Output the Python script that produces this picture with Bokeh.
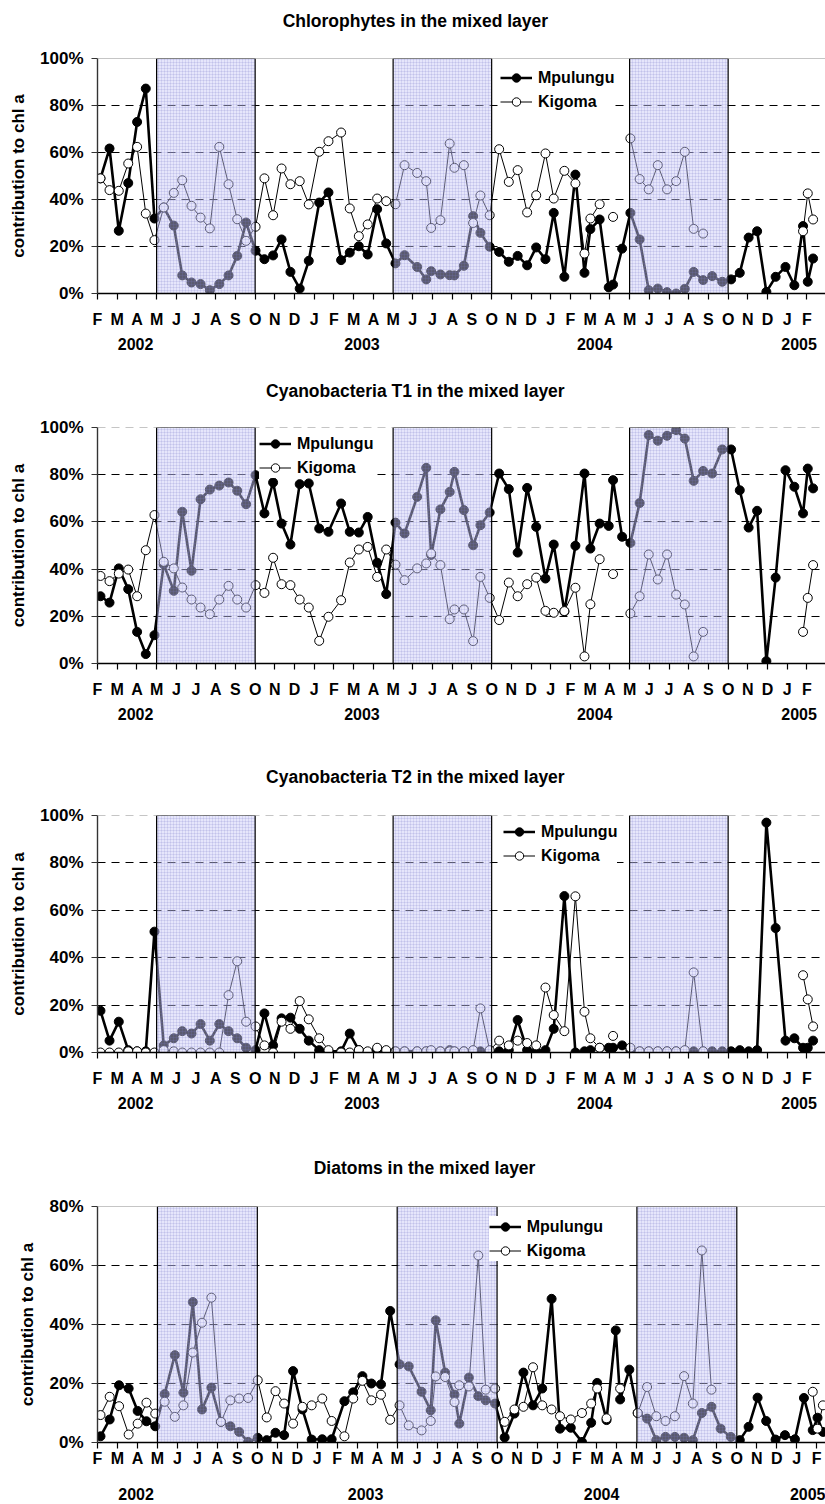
from bokeh.plotting import figure
from bokeh.models import (Range1d, FixedTicker, LinearAxis, Legend, LegendItem,
                          PrintfTickFormatter, ColumnDataSource, Span)
from bokeh.layouts import column
from bokeh.embed import file_html
from bokeh.resources import INLINE

nan = float("nan")
FONT = "Liberation Sans"

# sampling dates, in months after 1 February 2002
sample_month = [0.15, 0.61, 1.08, 1.56, 2.01, 2.45, 2.89, 3.36, 3.87, 4.30,
                4.77, 5.23, 5.70, 6.18, 6.65, 7.09, 7.54, 8.02, 8.47, 8.91,
                9.34, 9.79, 10.26, 10.72, 11.25, 11.72, 12.36, 12.80, 13.26, 13.71,
                14.19, 14.65, 15.12, 15.58, 16.22, 16.68, 16.93, 17.40, 17.87, 18.11,
                18.59, 19.06, 19.43, 19.90, 20.38, 20.87, 21.32, 21.80, 22.26, 22.73,
                23.15, 23.69, 24.25, 24.71, 25.01, 25.48, 25.94, 26.16, 26.62, 27.04,
                27.51, 27.97, 28.43, 28.90, 29.36, 29.80, 30.25, 30.73, 31.19, 31.70,
                32.15, 32.59, 33.04, 33.47, 33.94, 34.41, 34.91, 35.36, 35.80, 36.04,
                36.31]

month_letters = ["F", "M", "A", "M", "J", "J", "A", "S", "O", "N", "D", "J"] * 3 + ["F"]
year_labels = ["2002", "2003", "2004", "2005"]
year_label_month = [1.93, 13.42, 25.23, 35.6]
strat_start = [3, 15, 27]   # May
strat_end = [8, 20, 32]     # October

chloro_mpulungu = [49, 61.7, 26.7, 47, 73, 87.2, 31.9, 36.6, 28.9, 7.7,
                   4.7, 4, 1.4, 4, 7.7, 16, 30.2, 18.2, 14.6, 16.2,
                   23, 9.2, 2.1, 13.9, 38.7, 43, 14.2, 17.4, 20.1, 16.6,
                   35.9, 21.3, 12.8, 16.3, 11.3, 6, 9.5, 8.1, 7.8, 7.7,
                   11.8, 32.9, 25.8, 19.9, 17.7, 13.5, 16, 12, 19.6, 14.6,
                   34.3, 7.1, 50.6, 8.8, 27.4, 31.5, 2.6, 3.8, 19.1, 34.3,
                   23, 1.4, 2.1, 0.6, 0, 2, 9.2, 5.7, 7.4, 5,
                   6, 8.8, 23.8, 26.5, 0.7, 7.1, 11.3, 3.5, 28.7, 5,
                   14.9]
chloro_kigoma = [49, 44, 43.7, 55.3, 62.4, 34, 22.7, 36.6, 42.8, 48.2,
                 37.3, 32.3, 27.7, 62.4, 46.5, 31.6, 22.4, 28.4, 49, 33.3,
                 53.2, 46.5, 47.8, 37.9, 60.3, 64.8, 68.5, 36.2, 24.4, 29.4,
                 40.4, 39.3, 38, 54.6, 51.3, 47.8, 27.9, 31.2, 63.8, 53.5,
                 54.6, 30, 41.7, 33.3, 61.4, 47.5, 52.5, 34.5, 41.8, 59.6,
                 40.4, 52.2, 46.8, 17, 31.9, 38, nan, 32.6, nan, 66,
                 48.7, 44.3, 54.6, 44.3, 47.8, 60.3, 27.5, 25.5, nan, nan,
                 nan, nan, nan, nan, nan, nan, nan, nan, 26.5, 42.6,
                 31.5]

cyt1_mpulungu = [28.5, 25.8, 40.3, 31.5, 13.4, 4, 12, 42, 30.8, 64.3,
                 39.3, 69.6, 73.7, 75.4, 76.7, 73.2, 67.5, 79.8, 63.6, 76.7,
                 59.3, 50.4, 76, 76.3, 57.2, 55.8, 67.8, 55.8, 55.5, 62.1,
                 42.7, 29.4, 59.7, 55.1, 70.6, 82.9, 46, 65.3, 72.7, 81.2,
                 65, 50.1, 58.6, 64, 80.5, 73.9, 47, 74.4, 57.9, 36,
                 50.4, 22, 49.9, 80.5, 48.7, 59.3, 58.3, 77.7, 53.7, 51.1,
                 68, 96.8, 94.4, 96.5, 98.9, 95.3, 77.4, 81.6, 80.5, 90.7,
                 90.7, 73.4, 57.6, 64.7, 1, 36.4, 81.9, 74.9, 63.6, 82.6,
                 74.2]
cyt1_kigoma = [37.1, 34.9, 38.1, 39.8, 28.5, 48, 62.9, 43.1, 40.3, 32.2,
               27.1, 23.7, 20.9, 27.1, 32.9, 27.1, 23.7, 33.2, 29.9, 44.8,
               33.6, 33.2, 27.1, 23.7, 9.6, 19.8, 26.8, 42.8, 48.3, 49.4,
               36.7, 48.3, 41.9, 35.3, 40.3, 42.4, 46.6, 41.7, 18.8, 22.9,
               22.9, 9.5, 36.7, 27.8, 18.4, 34.3, 28.5, 33.6, 36.4, 22.3,
               21.5, 22.2, 32.1, 3, 25.1, 44.2, nan, 37.9, nan, 21.2,
               28.5, 46.2, 35.6, 46.2, 29.2, 25, 3, 13.4, nan, nan,
               nan, nan, nan, nan, nan, nan, nan, nan, 13.4, 27.8,
               41.7]

cyt2_mpulungu = [17.6, 5, 13, 1, 0.5, 0.5, 51, 3, 6, 9,
                 8, 12, 5, 12, 9, 6, 2, 1, 16.5, 3,
                 14.4, 14.7, 10, 5, 1, 0.5, 0.5, 8, 1, 0,
                 1.5, 0.5, 0.5, 0.5, 0.5, 0.5, 0.5, 0.5, 1, 0.5,
                 0.5, 0.5, 0.5, 0.5, 0.5, 1, 13.7, 1, 0.5, 1,
                 10, 66, 0, 0.5, 1, 2, 2, 2, 3, 1,
                 0.5, 0.5, 0.5, 0.5, 0.5, 0.5, 0.5, 0.5, 0.5, 0.5,
                 0.5, 1, 0.5, 1, 97, 52.5, 5, 6, 2, 2,
                 5]
cyt2_kigoma = [0, 0, 0, 0.5, 0.5, 0, 0, 1, 0.5, 0,
               0, 0, 0, 0, 24.2, 38.5, 13, 11, 3, 0,
               13, 10, 21.7, 14, 6, 1, 0, 0, 1, 0.5,
               2, 1, 0.5, 0.5, 0.5, 0.5, 1, 0.5, 0.5, 0.5,
               0.5, 1, 18.6, 1, 5, 3, 5, 4, 3, 27.4,
               15.8, 9, 65.9, 17.2, 6, 2, nan, 7, nan, 2,
               0.5, 0.5, 0.5, 0.5, 0.5, 1, 33.8, 0.5, nan, nan,
               nan, nan, nan, nan, nan, nan, nan, nan, 32.6, 22.4,
               11]

diat_mpulungu = [2.1, 7.8, 19.4, 18.3, 10.7, 7.2, 5.5, 16.4, 29.6, 16.9,
                 47.6, 11.2, 18.6, 7, 5.5, 3.6, 0.2, 1.6, 0.8, 3.3,
                 2.5, 24.2, 11.2, 1, 1.1, 1.1, 14, 17, 22.5, 20,
                 19.7, 44.6, 26.5, 25.8, 17.2, 10.9, 41.4, 23.7, 16.2, 6.4,
                 22, 15.7, 14.3, 13.2, 1.7, 9.8, 23.7, 12.6, 18.3, 48.7,
                 4.7, 5, 0.2, 6.7, 20.2, 7.6, 38, 14.6, 24.7, 10,
                 8.1, 0.8, 1.9, 1.9, 1.6, 0.8, 10, 12.1, 4.7, 1.9,
                 0.8, 5.3, 15.2, 7.3, 1, 2.5, 1.1, 15.1, 4.2, 8.4,
                 3.6]
diat_kigoma = [9.3, 15.5, 12.3, 2.7, 6.4, 13.5, 9.8, 13.8, 8.7, 12.6,
               30.5, 40.6, 49.1, 7, 14.3, 14.9, 15.1, 21.1, 8.5, 17.4,
               13.2, 6.4, 12.1, 12.6, 14.9, 7.3, 2.1, 14.9, 20.9, 14.3,
               16.2, 7.7, 12.6, 5.8, 4.1, 7.3, 22.4, 22.2, 13.7, 19.4,
               19, 63.4, 17.9, 18.3, 7, 11.2, 12.1, 25.5, 12.6, 11.2,
               8.9, 7.8, 10, 13.2, 18.3, 8.2, nan, 18.3, nan, 10,
               18.8, 8.9, 7.3, 8.9, 22.5, 13.2, 65.1, 17.9, nan, nan,
               nan, nan, nan, nan, nan, nan, nan, nan, 17.2, 4.7,
               12.6]


def plain_axis(ticks, labels, standoff, size):
    return LinearAxis(ticker=FixedTicker(ticks=ticks),
                      major_label_overrides={v: t for v, t in zip(ticks, labels)},
                      axis_line_color=None, major_tick_line_color=None,
                      minor_tick_line_color=None, major_tick_out=0,
                      major_tick_in=0, minor_tick_out=0, minor_tick_in=0,
                      major_label_standoff=standoff,
                      major_label_text_font=FONT,
                      major_label_text_font_size=size,
                      major_label_text_font_style="bold",
                      major_label_text_color="black")


def make_panel(title, mp, kg, ymax, frame_w, frame_h, b_top, b_bottom, b_left,
               x_end, title_month, title_standoff, legend_xy, month_standoff,
               year_standoff, top_solid):
    p = figure(frame_width=frame_w, frame_height=frame_h,
               x_range=Range1d(0, x_end), y_range=Range1d(0, ymax),
               output_backend="svg", toolbar_location=None,
               min_border_top=b_top, min_border_bottom=b_bottom,
               min_border_left=b_left, min_border_right=0)
    p.outline_line_color = None
    p.background_fill_color = "white"
    p.border_fill_color = "white"

    # grid
    p.xgrid.visible = False
    p.ygrid.ticker = FixedTicker(ticks=list(range(20, ymax, 20)))
    p.ygrid.grid_line_color = "black"
    p.ygrid.grid_line_dash = "8 6"
    p.ygrid.grid_line_width = 1
    top = Span(location=ymax, dimension="width", line_color="#8c8c8c",
               line_width=1.2, line_dash="solid" if top_solid else "8 6")
    p.add_layout(top)

    src = ColumnDataSource(dict(x=sample_month, mp=mp, kg=kg))
    l_mp = p.line("x", "mp", source=src, line_color="black", line_width=2.6)
    s_mp = p.scatter("x", "mp", source=src, size=9, fill_color="black",
                     line_color="black")
    l_kg = p.line("x", "kg", source=src, line_color="black", line_width=1)
    s_kg = p.scatter("x", "kg", source=src, size=9, fill_color="white",
                     line_color="black", line_width=1)

    # stratified season overlay
    p.quad(left=strat_start, right=strat_end, bottom=0, top=ymax,
           fill_color="#c8c8f6", fill_alpha=0.45,
           hatch_pattern="+", hatch_color="#7c7cc8", hatch_alpha=0.3,
           hatch_scale=3, hatch_weight=0.6,
           line_color="black", line_width=1.2)

    # x axis (months)
    xa = p.xaxis[0]
    xa.ticker = FixedTicker(ticks=list(range(len(month_letters))))
    xa.major_label_overrides = {i: m for i, m in enumerate(month_letters)}
    xa.major_tick_out = 6
    xa.major_tick_in = 0
    xa.minor_tick_out = 0
    xa.minor_tick_in = 0
    xa.axis_line_color = "black"
    xa.axis_line_width = 1.4
    xa.major_tick_line_color = "black"
    xa.major_tick_line_width = 1.2
    xa.major_label_text_font = FONT
    xa.major_label_text_font_size = "16px"
    xa.major_label_text_font_style = "bold"
    xa.major_label_text_color = "black"
    xa.major_label_standoff = month_standoff

    # second row: years
    p.add_layout(plain_axis(year_label_month, year_labels, year_standoff, "16px"), "below")
    # title row above the frame
    p.add_layout(plain_axis([title_month], [title], title_standoff, "17.5px"), "above")

    # y axis
    ya = p.yaxis[0]
    ya.ticker = FixedTicker(ticks=list(range(0, ymax + 1, 20)))
    ya.formatter = PrintfTickFormatter(format="%d%%")
    ya.axis_label = "contribution to chl a"
    ya.axis_label_text_font = FONT
    ya.axis_label_text_font_size = "17px"
    ya.axis_label_text_font_style = "bold"
    ya.axis_label_text_color = "black"
    ya.axis_label_standoff = 9
    ya.major_label_text_font = FONT
    ya.major_label_text_font_size = "17px"
    ya.major_label_text_font_style = "bold"
    ya.major_label_text_color = "black"
    ya.major_label_standoff = 8
    ya.major_tick_out = 6
    ya.major_tick_in = 0
    ya.minor_tick_out = 0
    ya.minor_tick_in = 0
    ya.axis_line_color = "#333333"
    ya.axis_line_width = 1.4
    ya.major_tick_line_color = "#333333"

    legend = Legend(items=[LegendItem(label="Mpulungu", renderers=[l_mp, s_mp]),
                           LegendItem(label="Kigoma", renderers=[l_kg, s_kg])],
                    location=legend_xy, orientation="vertical",
                    label_text_font=FONT, label_text_font_size="16px",
                    label_text_font_style="bold", label_text_color="black",
                    glyph_width=32, glyph_height=21, label_height=21,
                    label_standoff=6, spacing=3, padding=6, margin=0,
                    border_line_color=None, background_fill_color="white",
                    background_fill_alpha=1.0)
    p.add_layout(legend)
    return p


p1 = make_panel("Chlorophytes in the mixed layer", chloro_mpulungu, chloro_kigoma,
                100, 728, 235, 58, 77, 97, 36.94, 16.13, 28, (403, 181), 11, 7, True)
p2 = make_panel("Cyanobacteria T1 in the mixed layer", cyt1_mpulungu, cyt1_kigoma,
                100, 728, 236, 57, 87, 97, 36.94, 16.13, 27, (162, 185), 11, 7, False)
p3 = make_panel("Cyanobacteria T2 in the mixed layer", cyt2_mpulungu, cyt2_kigoma,
                100, 728, 237, 65, 88, 97, 36.94, 16.13, 29, (406, 186), 11, 7, False)
p4 = make_panel("Diatoms in the mixed layer", diat_mpulungu, diat_kigoma,
                80, 738, 236, 66, 62, 87, 36.94, 16.37, 29, (405, 181), 1, 18, True)

layout = column(p1, p2, p3, p4, spacing=0)

with open("out.html", "w") as f:
    f.write(file_html(layout, INLINE))
